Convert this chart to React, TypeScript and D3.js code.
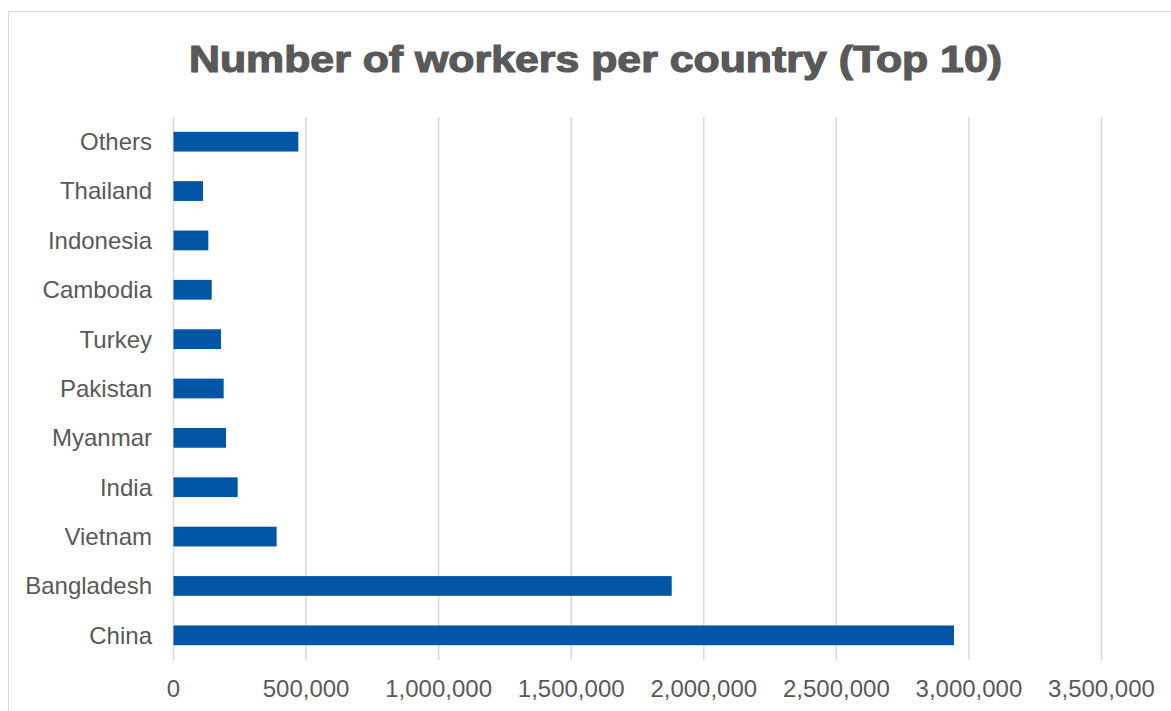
import React from "react";
import * as d3 from "d3";

const categories = ["Others", "Thailand", "Indonesia", "Cambodia", "Turkey", "Pakistan", "Myanmar", "India", "Vietnam", "Bangladesh", "China"];
const workers = [470700, 111300, 131300, 144000, 179000, 189300, 198000, 242000, 389000, 1879000, 2943700];
const tickValues = [0, 500000, 1000000, 1500000, 2000000, 2500000, 3000000, 3500000];
const title = "Number of workers per country (Top 10)";

const W = 1171;
const H = 711;
const plotLeft = 173.5;
const plotRight = 1101.5;
const plotTop = 117;
const plotBottom = 660;

export default function App() {
  const x = d3.scaleLinear().domain([0, 3500000]).range([plotLeft, plotRight]);
  const y = d3
    .scaleBand<string>()
    .domain(categories)
    .range([plotTop, plotBottom])
    .paddingInner(0.6)
    .paddingOuter(0.3);
  const fmt = d3.format(",");
  const textColor = "#595959";
  const font = "'Liberation Sans', Arial, sans-serif";

  return (
    <svg
      width={W}
      height={H}
      style={{ position: "absolute", left: 0, top: 0, background: "#fff" }}
      fontFamily={font}
    >
      <rect x={0} y={0} width={W} height={H} fill="#fff" />
      <rect x={8.5} y={11.5} width={W + 20} height={H + 20} fill="#fff" stroke="#d9d9d9" strokeWidth={1} />
      <text
        x={595.5}
        y={71.5}
        textAnchor="middle"
        fontSize={37}
        fontWeight="bold"
        fill={textColor}
        stroke={textColor}
        strokeWidth={1.2}
        textLength={813}
        lengthAdjust="spacingAndGlyphs"
      >
        {title}
      </text>
      {tickValues.map((t) => (
        <g key={t}>
          <line x1={x(t)} x2={x(t)} y1={plotTop} y2={plotBottom} stroke="#d9d9d9" strokeWidth={1.5} />
          <text x={x(t)} y={697} textAnchor="middle" fontSize={24} fill={textColor}>
            {fmt(t)}
          </text>
        </g>
      ))}
      {categories.map((c, i) => (
        <g key={c}>
          <rect
            x={x(0)}
            y={y(c)!}
            width={x(workers[i]) - x(0)}
            height={y.bandwidth()}
            fill="#0055A5"
          />
          <text
            x={152}
            y={y(c)! + y.bandwidth() / 2}
            dy="0.35em"
            textAnchor="end"
            fontSize={24}
            fill={textColor}
          >
            {c}
          </text>
        </g>
      ))}
    </svg>
  );
}
